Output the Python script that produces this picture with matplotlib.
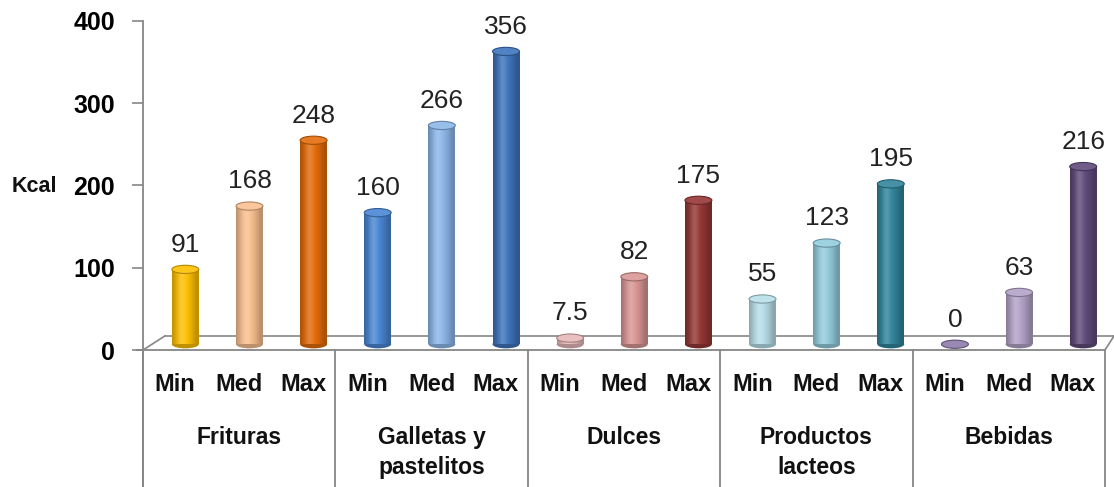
import numpy as np
import matplotlib
matplotlib.use("Agg")
import matplotlib.pyplot as plt
from matplotlib.patches import Ellipse
from matplotlib.colors import to_rgb

plt.rcParams['font.family'] = ['Liberation Sans', 'DejaVu Sans']

# ---------------- data ----------------
groups = ['Frituras', 'Galletas y\npastelitos', 'Dulces', 'Productos\nlacteos', 'Bebidas']
levels = ['Min', 'Med', 'Max']
frituras  = [91, 168, 248]
galletas  = [160, 266, 356]
dulces    = [7.5, 82, 175]
productos = [55, 123, 195]
bebidas   = [0, 63, 216]
value_txt = ['91', '168', '248', '160', '266', '356', '7.5', '82', '175',
             '55', '123', '195', '0', '63', '216']
colors = ['#FFC000', '#FAC090', '#E46C0A',
          '#4A86D4', '#8DB8EA', '#3E74BC',
          '#E6B9B8', '#D99694', '#953735',
          '#B7DEE8', '#93CDDD', '#31859C',
          '#8C7BAA', '#B3A2C7', '#604A7B']
yticks = [0, 100, 200, 300, 400]

values = frituras + galletas + dulces + productos + bebidas
n = len(values)

# 3D look settings
depth_x = 0.16     # bars sit slightly behind the front axis
base = 7           # bar base (data units) on the floor
floor_back = 17
bar_w = 0.42
cap_h = 10
grey = '#868686'

fig = plt.figure(figsize=(11.14, 4.87), dpi=100)
W, H = 1114, 487
x0, x1 = 143, 1105
ytop, y0 = 21, 350
scale = (y0 - ytop) / 400.0
ymin = -(H - y0) / scale
ax = fig.add_axes([x0 / W, 0, (x1 - x0) / W, (H - ytop) / H])
ax.set_xlim(0, n)
ax.set_ylim(ymin, 400)

for s in ['top', 'right', 'bottom']:
    ax.spines[s].set_visible(False)
ax.spines['left'].set_color(grey)
ax.spines['left'].set_linewidth(1.3)
ax.set_xticks([])
ax.set_yticks(yticks)
ax.set_yticklabels([str(t) for t in yticks], fontsize=18, fontweight='bold')
ax.tick_params(axis='y', length=8, color=grey, width=1.2, pad=12)

# floor
ax.plot([-0.1, n], [0, 0], color=grey, lw=1.3, clip_on=False, zorder=1)
ax.plot([0, 0.34], [0, floor_back], color=grey, lw=1.2, zorder=1)
ax.plot([0.34, n + 0.14], [floor_back, floor_back], color=grey, lw=1.2, clip_on=False, zorder=1)
ax.plot([n, n + 0.14], [0, floor_back], color=grey, lw=1.2, clip_on=False, zorder=1)

# category separators
for k in range(len(groups) + 1):
    ax.plot([3 * k, 3 * k], [0, ymin], color=grey, lw=1.3, clip_on=False, zorder=1)

xs = np.arange(n) + 0.5 + depth_x
bars = ax.bar(xs, values, width=bar_w, bottom=base, color=colors, zorder=3, linewidth=0)

t = np.linspace(0, 1, 64)
for i, (b, v, c) in enumerate(zip(bars, values, colors)):
    rgb = np.array(to_rgb(c))
    shade = 0.75 + 0.25 * np.sin(np.pi * np.clip(t * 1.1, 0, 1))
    hl = np.exp(-((t - 0.35) / 0.15) ** 2) * 0.18
    grad = rgb[None, :] * shade[:, None] + (1 - rgb[None, :] * shade[:, None]) * hl[:, None]
    grad = np.clip(grad, 0, 1)[None, :, :]
    bx = xs[i] - bar_w / 2
    # bottom cap
    ax.add_patch(Ellipse((xs[i], base), bar_w, cap_h, facecolor=rgb * 0.75,
                         edgecolor='none', zorder=2.5))
    if v > 0:
        im = ax.imshow(grad, extent=[bx, bx + bar_w, base, base + v], aspect='auto',
                       zorder=3.5, interpolation='bilinear')
        im.set_clip_path(b)
    top_col = np.clip(rgb * 0.9 + 0.1, 0, 1)
    ax.add_patch(Ellipse((xs[i], base + v), bar_w, cap_h, facecolor=top_col,
                         edgecolor=rgb * 0.7, lw=0.8, zorder=4))
    ax.text(xs[i], base + v + 30, value_txt[i], ha='center', va='center',
            fontsize=19, color='#222222', zorder=5)

ax.set_xlim(0, n)
ax.set_ylim(ymin, 400)

# x category labels
for i in range(n):
    ax.text(i + 0.5, -42, levels[i % 3], ha='center', va='center',
            fontsize=17, fontweight='bold', color='#111111')
for k, g in enumerate(groups):
    ax.text(3 * k + 1.5, -93, g, ha='center', va='top', fontsize=16.5,
            fontweight='bold', color='#111111', linespacing=1.35)

fig.text(12 / W, 1 - 186 / H, 'Kcal', ha='left', va='center', fontsize=15.5,
         fontweight='bold', color='#111111')

fig.savefig('out.png', dpi=100)
